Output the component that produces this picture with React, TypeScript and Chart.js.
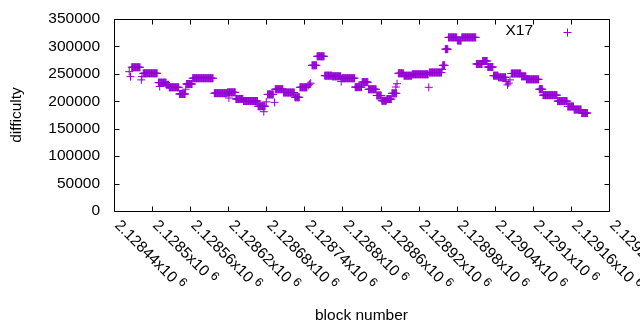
import React, { useEffect, useRef } from 'react';
import { Chart, registerables } from 'chart.js';

Chart.register(...registerables);

const seriesLabel = 'X17';
const xTitle = 'block number';
const yTitle = 'difficulty';

// Runs of blocks that share one difficulty value
const runStart = [2128468, 2128486, 2128510, 2128523, 2128527, 2128543, 2128554, 2128564, 2128598, 2128619, 2128632, 2128644, 2128667, 2128682, 2128694, 2128707, 2128725, 2128733, 2128752, 2128760, 2128772, 2128784, 2128799, 2128820, 2128831, 2128841, 2128854, 2128862, 2128870, 2128878, 2128888, 2128897, 2128910, 2128937, 2128958, 2128962, 2128967, 2128981, 2128988, 2129011, 2129021, 2129029, 2129038, 2129046, 2129066, 2129082, 2129090, 2129110, 2129116, 2129139, 2129155, 2129165, 2129177];
const runEnd = [2128481, 2128508, 2128522, 2128526, 2128542, 2128552, 2128563, 2128596, 2128618, 2128631, 2128643, 2128666, 2128678, 2128691, 2128706, 2128724, 2128732, 2128744, 2128759, 2128771, 2128783, 2128797, 2128819, 2128830, 2128840, 2128853, 2128861, 2128869, 2128877, 2128885, 2128896, 2128909, 2128935, 2128956, 2128961, 2128966, 2128980, 2128987, 2129010, 2129020, 2129028, 2129037, 2129045, 2129057, 2129081, 2129089, 2129109, 2129115, 2129138, 2129154, 2129164, 2129176, 2129186];
const runDifficulty = [262000, 251000, 234000, 230000, 225500, 213300, 231500, 242000, 214800, 216300, 204300, 200500, 191000, 212500, 222000, 216000, 207300, 225500, 265600, 282000, 246700, 245500, 242000, 225800, 234900, 221900, 210600, 201000, 204000, 214500, 251000, 246700, 249200, 252500, 265600, 295000, 316500, 310800, 316500, 268000, 273500, 262500, 246700, 243700, 250700, 245500, 240000, 222000, 211200, 200300, 190500, 185000, 178600];

// Isolated points
const singleBlock = [2128464, 2128466, 2128483, 2128484, 2128512, 2128553, 2128621, 2128676, 2128680, 2128693, 2128746, 2128748, 2128750, 2128798, 2128884, 2128886, 2128936, 2128957, 2129058, 2129060, 2129062, 2129064];
const singleDifficulty = [254000, 245000, 239000, 245000, 227000, 222000, 206000, 181000, 199000, 198000, 229000, 231000, 233000, 236000, 226000, 232000, 225500, 258000, 236000, 230000, 233000, 239000];

const xTickValues = [2128440, 2128500, 2128560, 2128620, 2128680, 2128740, 2128800, 2128860, 2128920, 2128980, 2129040, 2129100, 2129160, 2129220];
const xTickMantissas = ['2.12844', '2.1285', '2.12856', '2.12862', '2.12868', '2.12874', '2.1288', '2.12886', '2.12892', '2.12898', '2.12904', '2.1291', '2.12916', '2.12922'];
const xTickExponent = '6';
const yTickValues = [0, 50000, 100000, 150000, 200000, 250000, 300000, 350000];

const FAMILY = "'Liberation Sans', Arial, sans-serif";
const FONT_SIZE = 15.5;
const COLOR = '#9400d3';

function buildPoints() {
  const pts: { x: number; y: number }[] = [];
  runStart.forEach((s, i) => {
    for (let b = s; b <= runEnd[i]; b++) pts.push({ x: b, y: runDifficulty[i] });
  });
  singleBlock.forEach((b, i) => pts.push({ x: b, y: singleDifficulty[i] }));
  pts.sort((a, b) => a.x - b.x);
  return pts;
}

const framePlugin = {
  id: 'gnuFrame',
  afterDraw(chart: any) {
    const { ctx, chartArea: ca, scales } = chart;
    const xs = scales.x;
    const ys = scales.y;
    const L = Math.round(ca.left) + 0.5;
    const R = Math.round(ca.right) + 0.5;
    const T = Math.round(ca.top) + 0.5;
    const B = Math.round(ca.bottom) + 0.5;
    ctx.save();
    ctx.strokeStyle = '#000';
    ctx.lineWidth = 1;
    ctx.beginPath();
    ctx.rect(L, T, R - L, B - T);
    xTickValues.forEach((v) => {
      const px = Math.round(xs.getPixelForValue(v)) + 0.5;
      ctx.moveTo(px, B);
      ctx.lineTo(px, B - 5);
      ctx.moveTo(px, T);
      ctx.lineTo(px, T + 5);
    });
    yTickValues.forEach((v) => {
      const py = Math.round(ys.getPixelForValue(v)) + 0.5;
      ctx.moveTo(L, py);
      ctx.lineTo(L + 5, py);
      ctx.moveTo(R, py);
      ctx.lineTo(R - 5, py);
    });
    ctx.stroke();

    // rotated x tick labels
    ctx.fillStyle = '#000';
    ctx.textAlign = 'left';
    ctx.textBaseline = 'alphabetic';
    xTickValues.forEach((v, i) => {
      const px = xs.getPixelForValue(v);
      ctx.save();
      ctx.translate(px, ca.bottom + 15);
      ctx.rotate(Math.PI / 4);
      ctx.font = `${FONT_SIZE}px ${FAMILY}`;
      const main = xTickMantissas[i] + 'x10';
      ctx.fillText(main, 0, 0);
      const w = ctx.measureText(main).width;
      ctx.font = `${FONT_SIZE * 0.8}px ${FAMILY}`;
      ctx.fillText(xTickExponent, w + 4, -5);
      ctx.restore();
    });

    // legend
    ctx.font = `${FONT_SIZE}px ${FAMILY}`;
    ctx.textAlign = 'right';
    ctx.textBaseline = 'middle';
    ctx.fillText(seriesLabel, 533, 31);
    ctx.strokeStyle = COLOR;
    ctx.beginPath();
    ctx.moveTo(567.5, 28.5);
    ctx.lineTo(567.5, 36.5);
    ctx.moveTo(563.5, 32.5);
    ctx.lineTo(571.5, 32.5);
    ctx.stroke();
    ctx.restore();
  },
};

export default function App() {
  const ref = useRef<HTMLCanvasElement>(null);
  useEffect(() => {
    if (!ref.current) return;
    const font = { family: FAMILY, size: FONT_SIZE };
    const chart = new Chart(ref.current, {
      type: 'scatter',
      data: {
        datasets: [
          {
            label: seriesLabel,
            data: buildPoints(),
            pointStyle: 'cross',
            pointRadius: 4,
            pointHoverRadius: 4,
            pointBorderWidth: 1,
            borderColor: COLOR,
            backgroundColor: COLOR,
          },
        ],
      },
      options: {
        animation: false,
        responsive: false,
        events: [],
        layout: { padding: { left: 0, right: 31, top: 19, bottom: 0 } },
        plugins: { legend: { display: false }, tooltip: { enabled: false } },
        scales: {
          x: {
            type: 'linear',
            min: 2128440,
            max: 2129220,
            afterBuildTicks: (s: any) => {
              s.ticks = xTickValues.map((v) => ({ value: v }));
            },
            afterFit: (s: any) => {
              s.height = 119;
              s.paddingLeft = 0;
              s.paddingRight = 0;
            },
            ticks: { display: false },
            grid: { display: false, drawTicks: false },
            border: { display: false },
            title: { display: true, text: xTitle, font, color: '#000', padding: { top: 0, bottom: 5 } },
          },
          y: {
            type: 'linear',
            min: 0,
            max: 350000,
            afterBuildTicks: (s: any) => {
              s.ticks = yTickValues.map((v) => ({ value: v }));
            },
            afterFit: (s: any) => {
              s.width = 114;
              s.paddingTop = 0;
              s.paddingBottom = 0;
            },
            ticks: { font, color: '#000', padding: 14, callback: (v: any) => String(v) },
            grid: { display: false, drawTicks: false },
            border: { display: false },
            title: { display: true, text: yTitle, font, color: '#000', padding: { top: 7, bottom: 0 } },
          },
        },
      },
      plugins: [framePlugin],
    });
    return () => chart.destroy();
  }, []);
  return (
    <div style={{ position: 'absolute', left: 0, top: 0, width: 640, height: 330, background: '#fff' }}>
      <canvas ref={ref} width={640} height={330} />
    </div>
  );
}
